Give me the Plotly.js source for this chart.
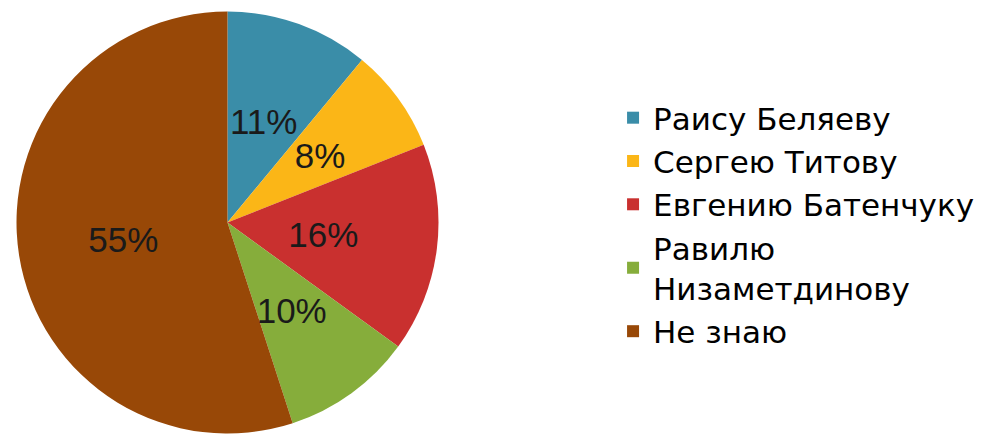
<!DOCTYPE html>
<html>
<head>
<meta charset="utf-8">
<script src="https://cdn.plot.ly/plotly-3.0.1.min.js"></script>
<style>html,body{margin:0;padding:0;background:#fff;}#chart{width:992px;height:436px;}</style>
</head>
<body>
<div id="chart"></div>
<script>
const labels = ["Раису Беляеву", "Сергею Титову", "Евгению Батенчуку", "Равилю<br>Низаметдинову", "Не знаю"];
const values = [11, 8, 16, 10, 55];
const colors = ["#3A8DA8", "#FBB617", "#C9302F", "#86AD3B", "#984807"];

// label templates: the large slice is labelled on the outer pie, small slices on the inner overlay
const outerText = ["", "", "", "", "%{value}%"];
const innerText = ["%{value}%", "%{value}%", "%{value}%", "%{value}%", ""];

const labelFont = {family: "Liberation Sans, Arial, sans-serif", size: 35, color: "#1a1a1a"};

const cx = 227.5 / 992, cy = 1 - 222.5 / 436; // pie centre (paper fraction)
const rx = 211 / 992, ry = 211 / 436;          // outer radius
const irx = 143 / 992, iry = 143 / 436;        // inner label ring

const data = [{
  type: "pie",
  labels: labels,
  values: values,
  sort: false,
  direction: "clockwise",
  rotation: 0,
  marker: {colors: colors, line: {width: 0}},
  texttemplate: outerText,
  textposition: "inside",
  insidetextorientation: "horizontal",
  insidetextfont: labelFont,
  domain: {x: [cx - rx, cx + rx], y: [cy - ry, cy + ry]},
  hoverinfo: "none"
}, {
  type: "pie",
  labels: labels,
  values: values,
  sort: false,
  direction: "clockwise",
  rotation: 0,
  showlegend: false,
  marker: {colors: colors.map(() => "rgba(0,0,0,0)"), line: {width: 0}},
  texttemplate: innerText,
  textposition: "inside",
  insidetextorientation: "horizontal",
  insidetextfont: labelFont,
  domain: {x: [cx - irx, cx + irx], y: [cy - iry, cy + iry]},
  hoverinfo: "none"
}];

const layout = {
  width: 992, height: 436,
  margin: {l: 0, r: 0, t: 0, b: 0},
  paper_bgcolor: "#ffffff",
  showlegend: true,
  uniformtext: {mode: "show", minsize: 35},
  legend: {
    x: 0.618, y: 0.485, xanchor: "left", yanchor: "middle",
    font: {family: "DejaVu Sans, sans-serif", size: 31, color: "#000000"},
    traceorder: "normal",
    bgcolor: "rgba(0,0,0,0)"
  }
};

Plotly.newPlot("chart", data, layout, {staticPlot: true});
</script>
</body>
</html>
